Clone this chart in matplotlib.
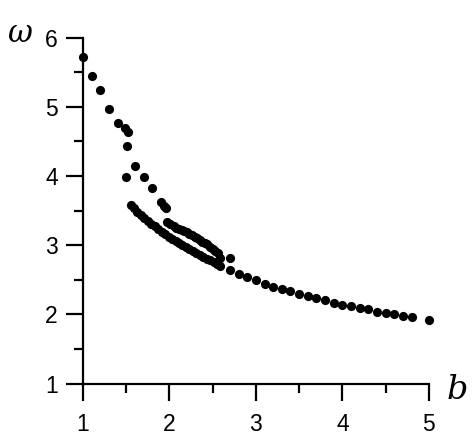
import matplotlib
matplotlib.use("Agg")
import matplotlib.pyplot as plt
from matplotlib.ticker import MultipleLocator

# sparse upper branch (b < 2)
b_upper = [1.00, 1.10, 1.20, 1.30, 1.40, 1.49, 1.515, 1.505, 1.60, 1.50, 1.70,
           1.80, 1.90, 1.935, 1.96, 1.97, 2.01]
w_upper = [5.72, 5.44, 5.24, 4.97, 4.76, 4.69, 4.63, 4.43, 4.15, 3.99, 3.99,
           3.83, 3.62, 3.57, 3.53, 3.34, 3.30]

# dense upper band
b_band_hi = [2.05, 2.08, 2.11, 2.14, 2.17, 2.20, 2.23, 2.26, 2.29, 2.32, 2.35,
             2.38, 2.41, 2.44, 2.47, 2.50, 2.53, 2.56, 2.59]
w_band_hi = [3.27, 3.25, 3.23, 3.22, 3.20, 3.19, 3.16, 3.14, 3.12, 3.10, 3.07,
             3.05, 3.03, 3.01, 2.98, 2.95, 2.92, 2.88, 2.81]

# dense lower band
b_band_lo = [1.55, 1.59, 1.63, 1.67, 1.71, 1.75, 1.79, 1.83, 1.87, 1.91, 1.95,
             1.99, 2.03, 2.07, 2.11, 2.15, 2.19, 2.23, 2.27, 2.31, 2.35, 2.39,
             2.43, 2.47, 2.51, 2.55, 2.59]
w_band_lo = [3.58, 3.53, 3.48, 3.44, 3.39, 3.35, 3.31, 3.27, 3.23, 3.19, 3.16,
             3.12, 3.09, 3.06, 3.03, 3.00, 2.97, 2.94, 2.91, 2.88, 2.86, 2.83,
             2.80, 2.78, 2.75, 2.73, 2.70]

# isolated point and tail
b_tail = [2.70, 2.70, 2.80, 2.90, 3.00, 3.10, 3.20, 3.30, 3.40, 3.50, 3.60,
          3.70, 3.80, 3.90, 4.00, 4.10, 4.20, 4.30, 4.40, 4.50, 4.60, 4.70,
          4.80, 5.00]
w_tail = [2.81, 2.64, 2.58, 2.54, 2.49, 2.44, 2.40, 2.36, 2.33, 2.29, 2.26,
          2.23, 2.20, 2.17, 2.14, 2.12, 2.09, 2.07, 2.04, 2.02, 2.00, 1.98,
          1.96, 1.92]


def main():
    fig = plt.figure(figsize=(4.77, 4.47), dpi=100)
    ax = fig.add_axes([0.174, 0.142, 0.725, 0.774])

    for bs, ws in [(b_upper, w_upper), (b_band_hi, w_band_hi),
                   (b_band_lo, w_band_lo), (b_tail, w_tail)]:
        ax.plot(bs, ws, "o", color="black", markersize=6.6, markeredgewidth=0,
                clip_on=False)

    ax.set_xlim(1, 5)
    ax.set_ylim(1, 6)
    ax.spines["top"].set_visible(False)
    ax.spines["right"].set_visible(False)
    for s in ["left", "bottom"]:
        ax.spines[s].set_linewidth(1.6)

    ax.xaxis.set_major_locator(MultipleLocator(1))
    ax.xaxis.set_minor_locator(MultipleLocator(0.5))
    ax.yaxis.set_major_locator(MultipleLocator(1))
    ax.yaxis.set_minor_locator(MultipleLocator(0.5))
    ax.tick_params(which="major", direction="out", length=12, width=1.6,
                   labelsize=16.5)
    ax.tick_params(which="minor", direction="out", length=6.5, width=1.6)
    ax.tick_params(axis="x", which="major", pad=9)
    ax.tick_params(axis="y", which="major", pad=6)
    for lab in ax.get_xticklabels() + ax.get_yticklabels():
        lab.set_fontfamily("Liberation Sans")

    fig.text(0.040, 0.925, "ω", fontsize=22, style="italic",
             family="DejaVu Serif", ha="center", va="center")
    fig.text(0.958, 0.128, "b", fontsize=24, style="italic",
             family="DejaVu Serif", ha="center", va="center")

    fig.savefig("out.png", dpi=100)
    plt.close()


if __name__ == "__main__":
    main()
